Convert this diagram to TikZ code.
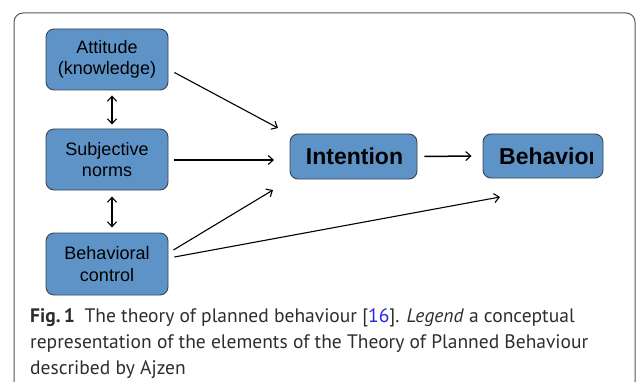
\documentclass[tikz,border=0pt]{standalone}
\usepackage{fontspec}
\setmainfont{PT Sans}
\newfontfamily\arialf{Liberation Sans}
\usetikzlibrary{arrows.meta}
\definecolor{boxblue}{RGB}{94,147,200}
\definecolor{boxedge}{RGB}{55,68,82}
\definecolor{framegray}{RGB}{85,85,85}
\definecolor{citeblue}{RGB}{40,40,220}
\definecolor{captxt}{RGB}{45,45,45}
\tikzset{
  box/.style={draw=boxedge, line width=0.9pt, fill=boxblue, rounded corners=8pt, inner sep=0pt},
  smalltxt/.style={font=\arialf\fontsize{18}{21.5}\selectfont, align=center, text=black},
  bigtxt/.style={font=\arialf\bfseries\fontsize{23}{27}\selectfont, text=black},
  arr/.style={line width=1.1pt, -{Straight Barb[length=5pt,width=9pt,line width=1.1pt]}},
  darr/.style={line width=1.1pt, {Straight Barb[length=5pt,width=9pt,line width=1.1pt]}-{Straight Barb[length=5pt,width=9pt,line width=1.1pt]}},
  captext/.style={anchor=base west, inner sep=0pt, text=captxt, font=\fontsize{19.5}{26}\selectfont}
}
\begin{document}
\begin{tikzpicture}[x=1pt,y=-1pt]
\useasboundingbox (0,0) rectangle (636,382);
\begin{scope}
\clip (0,0) rectangle (636,382);
\draw[framegray, line width=1pt, rounded corners=9pt] (14,13) rectangle (635,430);
\end{scope}

% boxes
\node[box, minimum width=122pt, minimum height=61pt] (att) at (107,59.5) {};
\node[smalltxt] (atttxt) at (107,59.5) {Attitude\\(knowledge)};
\node[box, minimum width=122pt, minimum height=61pt] (sub) at (107,159.5) {};
\node[smalltxt] (subtxt) at (107,159.5) {Subjective\\norms};
\node[box, minimum width=122pt, minimum height=62pt] (bc) at (107,264) {};
\node[smalltxt] (bctxt) at (107,264) {Behavioral\\control};
\node[box, minimum width=127pt, minimum height=45pt] (int) at (353.5,156.5) {};
\node[bigtxt] (inttxt) at (354.5,156.5) {Intention};
\node[box, minimum width=120pt, minimum height=44pt] (beh) at (543,156) {};
\begin{scope}
\clip (483,130) rectangle (592,185);
\node[bigtxt, anchor=west, inner sep=0pt] (behtxt) at (499,156.5) {Behavior};
\end{scope}

% connectors
\coordinate (i1) at (278,128);
\coordinate (i2) at (274,160);
\coordinate (i3) at (273,190);
\coordinate (b1) at (500,197);
\draw[arr] ([shift={(6,13)}]att.east) -- (i1);
\draw[arr] ([shift={(6,0.5)}]sub.east) -- (i2);
\draw[arr] ([shift={(5,-14)}]bc.east) -- (i3);
\draw[arr] ([shift={(6,-7)}]bc.east) -- (b1);
\draw[arr, line width=1.5pt] ([xshift=7]int.east) -- ([xshift=-11]beh.west);
\draw[darr] ([shift={(5,5)}]att.south) -- ([shift={(5,-4)}]sub.north);
\draw[darr] ([shift={(5,6)}]sub.south) -- ([shift={(5,-5)}]bc.north);

% caption
\node[captext] (cap1) at (30,322) {\textbf{Fig.\,1}\enspace The theory of planned behaviour [{\color{citeblue}16}]. \textit{Legend} a conceptual};
\node[captext] (cap2) at (30,348) {representation of the elements of the Theory of Planned Behaviour};
\node[captext] (cap3) at (30,374) {described by Ajzen};
\end{tikzpicture}
\end{document}
